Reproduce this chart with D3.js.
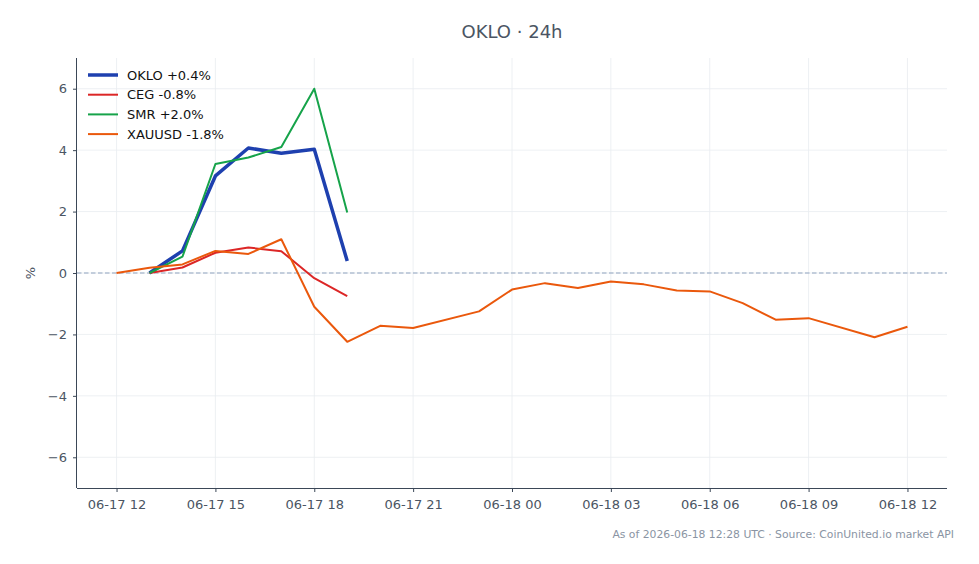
<!DOCTYPE html>
<meta charset="utf-8">
<style>
body { margin: 0; background: #fff; }
svg { display: block; font-family: "DejaVu Sans", sans-serif; }
.grid line { stroke: #e9ecf0; stroke-width: 0.8px; }
.axis path, .axis line { stroke: #3b4757; }
.axis text { fill: #4b5563; font-size: 13px; font-family: "DejaVu Sans", sans-serif; }
</style>
<body>
<script src="https://d3js.org/d3.v7.min.js"></script>
<script>
// data (percent change vs first point)
var stockTimes = ["2026-06-17T13:00", "2026-06-17T14:00", "2026-06-17T15:00", "2026-06-17T16:00",
                  "2026-06-17T17:00", "2026-06-17T18:00", "2026-06-17T19:00"];
var okloValues = [0.0, 0.72, 3.16, 4.07, 3.90, 4.03, 0.39];
var cegValues  = [0.0, 0.18, 0.66, 0.83, 0.71, -0.17, -0.75];
var smrValues  = [0.0, 0.53, 3.55, 3.76, 4.10, 6.00, 1.97];

var xauTimes = ["2026-06-17T12:00", "2026-06-17T13:00", "2026-06-17T14:00", "2026-06-17T15:00",
                "2026-06-17T16:00", "2026-06-17T17:00", "2026-06-17T18:00", "2026-06-17T19:00",
                "2026-06-17T20:00", "2026-06-17T21:00", "2026-06-17T23:00", "2026-06-18T00:00",
                "2026-06-18T01:00", "2026-06-18T02:00", "2026-06-18T03:00", "2026-06-18T04:00",
                "2026-06-18T05:00", "2026-06-18T06:00", "2026-06-18T07:00", "2026-06-18T08:00",
                "2026-06-18T09:00", "2026-06-18T11:00", "2026-06-18T12:00"];
var xauValues = [0.0, 0.17, 0.28, 0.72, 0.62, 1.10, -1.10, -2.24, -1.72, -1.79, -1.25, -0.54,
                 -0.33, -0.49, -0.28, -0.37, -0.57, -0.60, -0.98, -1.52, -1.47, -2.09, -1.75];

var seriesNames  = ["OKLO +0.4%", "CEG -0.8%", "SMR +2.0%", "XAUUSD -1.8%"];
var seriesColors = ["#1e40af", "#dc2626", "#16a34a", "#ea580c"];
var seriesWidths = [3.5, 2, 2, 2];

var yTicks = [-6, -4, -2, 0, 2, 4, 6];
var xTicks = ["2026-06-17T12:00", "2026-06-17T15:00", "2026-06-17T18:00", "2026-06-17T21:00",
              "2026-06-18T00:00", "2026-06-18T03:00", "2026-06-18T06:00", "2026-06-18T09:00",
              "2026-06-18T12:00"];

var title = "OKLO \u00b7 24h";
var footer = "As of 2026-06-18 12:28 UTC \u00b7 Source: CoinUnited.io market API";

// layout
var W = 979, H = 564;
var margin = {top: 58, right: 32, bottom: 76, left: 77};
var width = W - margin.left - margin.right,
    height = H - margin.top - margin.bottom;

var parse = d3.utcParse("%Y-%m-%dT%H:%M");
var fmt = d3.utcFormat("%m-%d %H");

var series = [
  {times: stockTimes, values: okloValues},
  {times: stockTimes, values: cegValues},
  {times: stockTimes, values: smrValues},
  {times: xauTimes, values: xauValues}
].map(function(s, i) {
  return {
    name: seriesNames[i], color: seriesColors[i], w: seriesWidths[i],
    points: s.times.map(function(t, j) { return {date: parse(t), v: s.values[j]}; })
  };
});

// x domain with 5% padding like matplotlib
var t0 = parse(xauTimes[0]), t1 = parse(xauTimes[xauTimes.length - 1]);
var pad = (t1 - t0) * 0.05;
var x = d3.scaleUtc().domain([new Date(+t0 - pad), new Date(+t1 + pad)]).range([0, width]);
var y = d3.scaleLinear().domain([-7, 7]).range([height, 0]);

var svg = d3.select("body").append("svg")
    .attr("width", W)
    .attr("height", H);

svg.append("text")
    .attr("x", margin.left + width / 2)
    .attr("y", 38)
    .attr("text-anchor", "middle")
    .style("font-size", "18px")
    .style("fill", "#4b5563")
    .text(title);

var g = svg.append("g")
    .attr("transform", "translate(" + margin.left + "," + margin.top + ")");

// grid
g.append("g")
    .attr("class", "grid")
    .selectAll("line.v")
    .data(xTicks.map(parse))
    .enter().append("line")
    .attr("x1", function(d) { return x(d); })
    .attr("x2", function(d) { return x(d); })
    .attr("y1", 0).attr("y2", height);

g.append("g")
    .attr("class", "grid")
    .selectAll("line.h")
    .data(yTicks)
    .enter().append("line")
    .attr("x1", 0).attr("x2", width)
    .attr("y1", function(d) { return y(d); })
    .attr("y2", function(d) { return y(d); });

// zero line
g.append("line")
    .attr("x1", 0).attr("x2", width)
    .attr("y1", y(0)).attr("y2", y(0))
    .attr("stroke", "#8fa3c0")
    .attr("stroke-width", 1.1)
    .attr("stroke-dasharray", "4.5,2.5");

var line = d3.line()
    .x(function(d) { return x(d.date); })
    .y(function(d) { return y(d.v); });

g.selectAll("path.series")
    .data(series)
    .enter().append("path")
    .attr("class", "series")
    .attr("fill", "none")
    .attr("stroke", function(d) { return d.color; })
    .attr("stroke-width", function(d) { return d.w; })
    .attr("stroke-linejoin", "round")
    .attr("d", function(d) { return line(d.points); });

// axes
var xAxis = g.append("g")
    .attr("class", "axis")
    .attr("transform", "translate(0," + height + ")")
    .call(d3.axisBottom(x).tickValues(xTicks.map(parse)).tickFormat(fmt).tickSize(4).tickPadding(7.5));
xAxis.select(".domain").attr("d", "M0,0.5H" + width);

var yAxis = g.append("g")
    .attr("class", "axis")
    .call(d3.axisLeft(y).tickValues(yTicks).tickSize(4).tickPadding(6)
      .tickFormat(function(d) { return d < 0 ? "\u2212" + Math.abs(d) : d; }));
yAxis.select(".domain").attr("d", "M-0.5,0V" + height);
g.selectAll(".axis").attr("font-family", null).attr("font-size", null);

g.append("text")
    .attr("transform", "translate(-42," + (height / 2) + ") rotate(-90)")
    .attr("text-anchor", "middle")
    .style("font-size", "13px")
    .style("fill", "#4b5563")
    .text("%");

// legend
var legend = g.append("g")
    .attr("transform", "translate(11,17)");
var item = legend.selectAll("g")
    .data(series)
    .enter().append("g")
    .attr("transform", function(d, i) { return "translate(0," + (i * 19.7) + ")"; });
item.append("line")
    .attr("x1", 0).attr("x2", 30)
    .attr("stroke", function(d) { return d.color; })
    .attr("stroke-width", function(d) { return d.w; });
item.append("text")
    .attr("x", 39)
    .attr("dy", "0.35em")
    .style("font-size", "13px")
    .style("fill", "#111")
    .text(function(d) { return d.name; });

svg.append("text")
    .attr("x", 954)
    .attr("y", 538)
    .attr("text-anchor", "end")
    .style("font-size", "10.8px")
    .style("fill", "#8a94a3")
    .text(footer);
</script>
</body>
